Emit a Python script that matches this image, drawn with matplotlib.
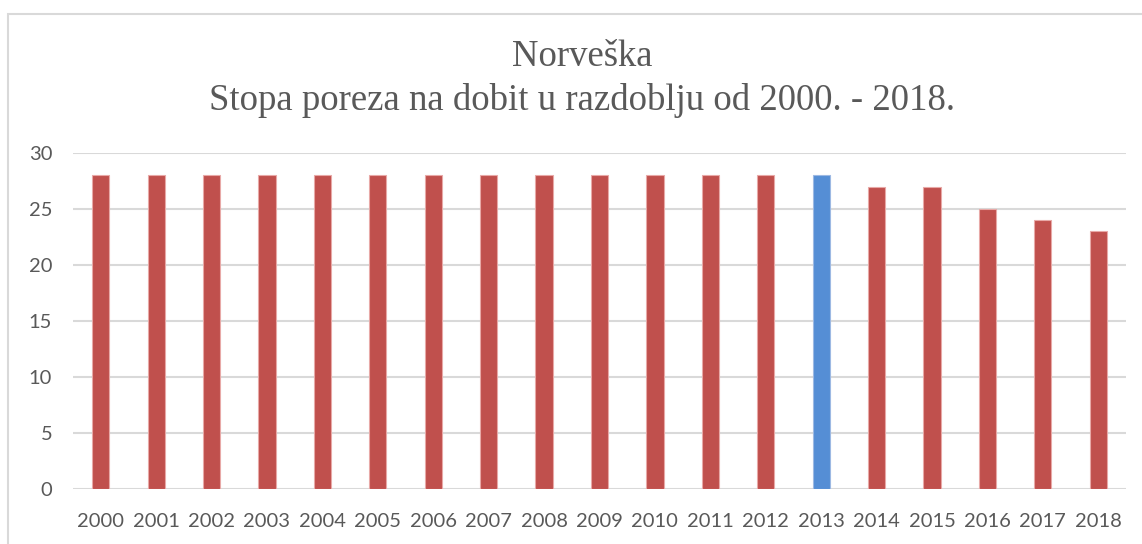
import matplotlib
matplotlib.use("Agg")
import matplotlib.pyplot as plt
from matplotlib.patches import Rectangle

years = [str(y) for y in range(2000, 2019)]
rates = [28, 28, 28, 28, 28, 28, 28, 28, 28, 28, 28, 28, 28, 28, 27, 27, 25, 24, 23]
highlight_year = "2013"
title_lines = ["Norveška", "Stopa poreza na dobit u razdoblju od 2000. - 2018."]
yticks = [0, 5, 10, 15, 20, 25, 30]

red = "#C0504D"
blue = "#558ED5"
grey_text = "#595959"
grid_col = "#D9D9D9"

fig = plt.figure(figsize=(11.42, 5.44), dpi=100)
fig.patch.set_facecolor("white")
W, H = 1142, 544
ax = fig.add_axes([73 / W, 1 - 489 / H, (1126 - 73) / W, (489 - 153) / H])

colors = [blue if y == highlight_year else red for y in years]
edges = ["#9DB9E3" if y == highlight_year else "#E8A9A7" for y in years]
x = list(range(len(years)))
ax.bar(x, rates, width=0.31, color=colors, edgecolor=edges, linewidth=0.8, zorder=3)

ax.set_xlim(-0.5, len(years) - 0.5)
ax.set_ylim(0, 30)
ax.set_yticks(yticks)
ax.set_xticks(x)
ax.set_xticklabels(years)
ax.grid(axis="y", color=grid_col, linewidth=1.5, zorder=0)
ax.set_axisbelow(True)
for s in ax.spines.values():
    s.set_visible(False)
ax.tick_params(axis="both", length=0, labelsize=14.5, labelcolor=grey_text)
ax.tick_params(axis="y", pad=15)
ax.tick_params(axis="x", pad=17.5)
for lab in ax.get_xticklabels() + ax.get_yticklabels():
    lab.set_family(["Lato", "DejaVu Sans"])

fig.text(582 / W, 1 - 57 / H, title_lines[0], ha="center", va="center",
         fontsize=26.5, color=grey_text, family=["Liberation Serif", "DejaVu Serif"])
fig.text(582 / W, 1 - 100 / H, title_lines[1], ha="center", va="center",
         fontsize=26.5, color=grey_text, family=["Liberation Serif", "DejaVu Serif"])

border = Rectangle((8 / W, -0.1), 1.2, (H - 14) / H + 0.1, transform=fig.transFigure,
                   fill=False, edgecolor=grid_col, linewidth=1.5, clip_on=False)
fig.patches.append(border)

fig.savefig("out.png", dpi=100, facecolor="white")
